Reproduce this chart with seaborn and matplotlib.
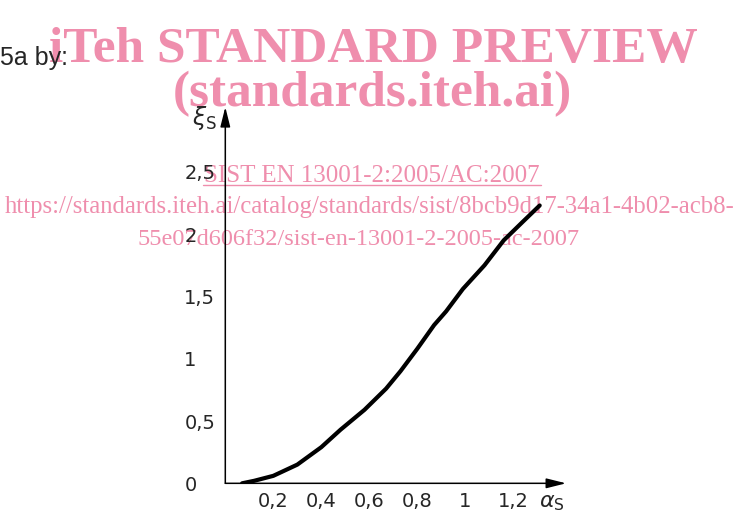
import matplotlib
matplotlib.use('Agg')
import matplotlib.pyplot as plt
from matplotlib.lines import Line2D
import seaborn as sns

# curve
alpha_s = [0.07, 0.12, 0.20, 0.30, 0.40, 0.48, 0.58, 0.67, 0.73, 0.80, 0.87, 0.92, 0.99, 1.08, 1.16, 1.24, 1.31]
xi_s = [0.00, 0.02, 0.06, 0.15, 0.29, 0.43, 0.59, 0.76, 0.90, 1.08, 1.27, 1.38, 1.56, 1.75, 1.95, 2.10, 2.23]

x_ticks = [0.2, 0.4, 0.6, 0.8, 1.0, 1.2]
x_labels = ['0,2', '0,4', '0,6', '0,8', '1', '1,2']
y_ticks = [0, 0.5, 1.0, 1.5, 2.0, 2.5]
y_labels = ['0', '0,5', '1', '1,5', '2', '2,5']

PINK = '#EF8EAD'

sns.set_style('white')
plt.rcParams['font.family'] = ['DejaVu Sans']

fig = plt.figure(figsize=(7.37, 5.25), dpi=100)
ax = fig.add_axes([0.3057, 0.0794, 0.4624, 0.7167])
ax.set_xlim(0, 1.42)
ax.set_ylim(0, 3.02)
ax.set_zorder(1)
ax.patch.set_facecolor('none')

sns.lineplot(x=alpha_s, y=xi_s, color='black', lw=3, ax=ax)

for s in ax.spines.values():
    s.set_visible(False)

# axes drawn as arrows
arrow = dict(arrowstyle='-|>,head_length=0.6,head_width=0.15', color='black',
             lw=1.1, mutation_scale=20, shrinkA=0, shrinkB=0)
ax.annotate('', xy=(1.42, 0), xytext=(0, 0), arrowprops=arrow, annotation_clip=False)
ax.annotate('', xy=(0, 3.02), xytext=(0, 0), arrowprops=arrow, annotation_clip=False)

ax.set_xticks(x_ticks)
ax.set_xticklabels(x_labels)
ax.set_yticks(y_ticks)
ax.set_yticklabels(y_labels)
ax.tick_params(direction='in', length=8, width=1.1, labelsize=14, color='black')
ax.tick_params(axis='x', pad=6)
ax.tick_params(axis='y', pad=29.5)
plt.setp(ax.get_yticklabels(), ha='left')

ax.text(-0.085, 2.93, r'$\xi_\mathrm{S}$', fontsize=17, ha='center', va='center')
ax.text(1.36, -0.16, r'$\alpha_\mathrm{S}$', fontsize=16, ha='center', va='center')

fig.text(0.0, 1 - 65 / 525, '5a by:', fontsize=18, family='Liberation Sans', va='baseline')

# watermark overlay
wm = dict(color=PINK, family='Liberation Serif', ha='center', va='baseline', zorder=-1)
fig.text(373 / 737, 1 - 62 / 525, 'iTeh STANDARD PREVIEW', fontsize=37, weight='bold', **wm)
fig.text(372 / 737, 1 - 106 / 525, '(standards.iteh.ai)', fontsize=37, weight='bold', **wm)
fig.text(372 / 737, 1 - 182 / 525, 'SIST EN 13001-2:2005/AC:2007', fontsize=18, **wm)
fig.add_artist(Line2D([203 / 737, 541 / 737], [1 - 185 / 525, 1 - 185 / 525], color=PINK, lw=1, zorder=-1))
fig.text(370 / 737, 1 - 213 / 525, 'https://standards.iteh.ai/catalog/standards/sist/8bcb9d17-34a1-4b02-acb8-',
         fontsize=17.8, **wm)
fig.text(359 / 737, 1 - 245 / 525, '55e07d606f32/sist-en-13001-2-2005-ac-2007', fontsize=17.5, **wm)

fig.savefig('out.png', dpi=100)
